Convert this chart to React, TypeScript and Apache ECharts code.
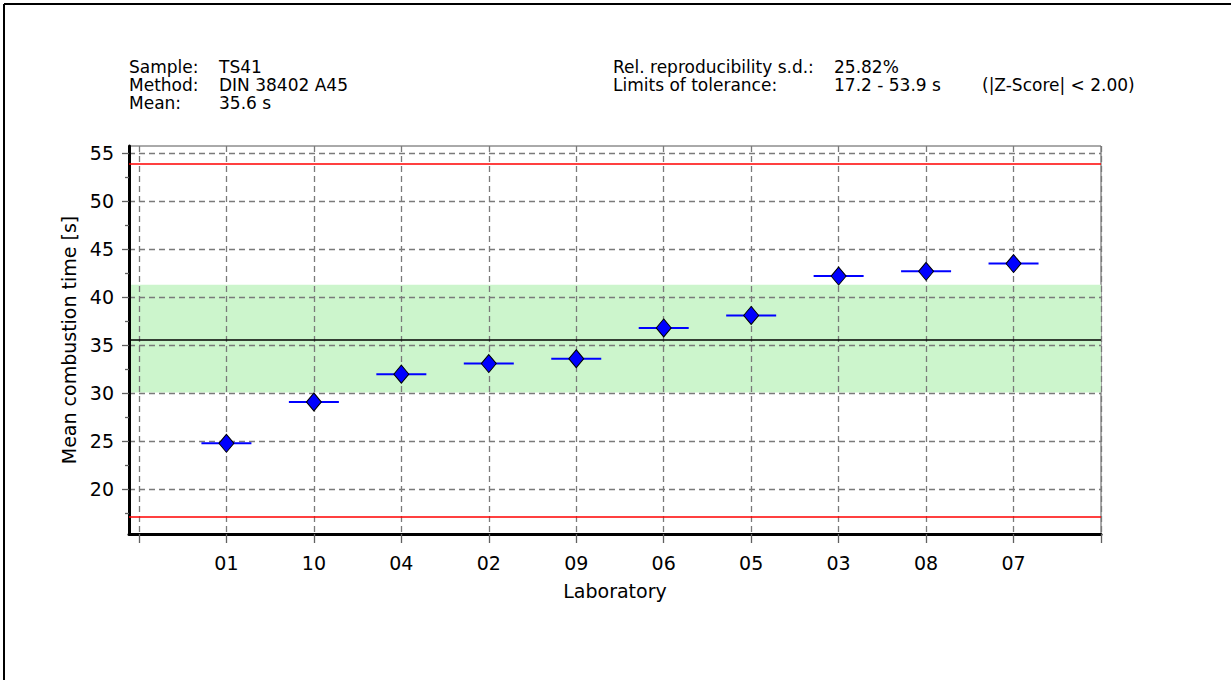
import React, { useEffect, useRef } from "react";
import * as echarts from "echarts";

const labs = ["01", "10", "04", "02", "09", "06", "05", "03", "08", "07"];
const means = [24.8, 29.1, 32.0, 33.1, 33.6, 36.8, 38.1, 42.2, 42.7, 43.5];
const meanValue = 35.6;
const limitLow = 17.2;
const limitHigh = 53.9;
const bandLow = 30.1;
const bandHigh = 41.3;
const yTicks = [20, 25, 30, 35, 40, 45, 50, 55];
const yMinorTicks = [17.5, 22.5, 27.5, 32.5, 37.5, 42.5, 47.5, 52.5];
const xTicks = [0, 1, 2, 3, 4, 5, 6, 7, 8, 9, 10, 11];
const xLabelPos = [1, 2, 3, 4, 5, 6, 7, 8, 9, 10];
const yMin = 15.37;
const yMax = 55.73;
const xMin = -0.114;
const xMax = 11;

const FONT = "'DejaVu Sans', sans-serif";
const FS = 19;
const HFS = 17;

export default function App() {
  const ref = useRef<HTMLDivElement>(null);
  useEffect(() => {
    document.body.style.margin = "0";
    const chart = echarts.init(ref.current!, null, { renderer: "svg" });
    const pts = means.map((v, i) => [i + 1, v]);
    const gridLine = { show: true, lineStyle: { color: "#7a7a7a", width: 1.3, type: [6, 4] } };
    const txt = (x: number, y: number, s: string) => ({
      type: "text",
      x,
      y,
      style: { text: s, fill: "#000", font: `${HFS}px ${FONT}`, textVerticalAlign: "middle" },
    });
    chart.setOption({
      animation: false,
      backgroundColor: "#fff",
      textStyle: { fontFamily: FONT },
      grid: {
        left: 129,
        right: 130,
        top: 146,
        bottom: 146,
        show: true,
        borderColor: "#555",
        borderWidth: 1,
        backgroundColor: "transparent",
      },
      xAxis: {
        type: "value",
        min: xMin,
        max: xMax,
        z: 1,
        name: "Laboratory",
        nameLocation: "middle",
        nameGap: 47,
        nameTextStyle: { fontSize: FS, color: "#000", fontFamily: FONT },
        axisLine: { show: true, onZero: false, lineStyle: { color: "#000", width: 3 } },
        axisTick: { show: true, customValues: xTicks, length: 9, lineStyle: { color: "#606060", width: 1.3 } },
        axisLabel: {
          customValues: xLabelPos,
          margin: 19,
          fontSize: FS,
          color: "#000",
          fontFamily: FONT,
          formatter: (v: number) => labs[Math.round(v) - 1] ?? "",
        },
        splitLine: gridLine,
      },
      yAxis: [
        {
          type: "value",
          min: yMin,
          max: yMax,
          z: 1,
          name: "Mean combustion time [s]",
          nameLocation: "middle",
          nameGap: 47,
          nameTextStyle: { fontSize: FS, color: "#000", fontFamily: FONT },
          axisLine: { show: true, onZero: false, lineStyle: { color: "#000", width: 3 } },
          axisTick: { show: true, customValues: yTicks, length: 7, lineStyle: { color: "#606060", width: 1.3 } },
          axisLabel: { customValues: yTicks, margin: 15, fontSize: FS, color: "#000", fontFamily: FONT },
          splitLine: gridLine,
        },
        {
          type: "value",
          min: yMin,
          max: yMax,
          position: "left",
          z: 1,
          axisLine: { show: false, onZero: false },
          axisTick: { show: true, inside: false, customValues: yMinorTicks, length: 4, lineStyle: { color: "#606060", width: 1.3 } },
          axisLabel: { show: false },
          splitLine: { show: false },
        },
      ],
      series: [
        {
          type: "custom",
          z: 0,
          silent: true,
          data: [[bandLow, bandHigh]],
          renderItem: (params: any, api: any) => {
            const cs = params.coordSys;
            const top = api.coord([xMin, api.value(1)])[1];
            const bot = api.coord([xMin, api.value(0)])[1];
            return {
              type: "rect",
              shape: { x: cs.x, y: top, width: cs.width, height: bot - top },
              style: { fill: "#ccf5cc" },
            };
          },
        },
        {
          type: "scatter",
          z: 3,
          silent: true,
          data: pts,
          symbol: "rect",
          symbolSize: [50, 2],
          itemStyle: { color: "#0000ff", opacity: 1 },
          markLine: {
            silent: true,
            symbol: ["none", "none"],
            label: { show: false },
            data: [
              { yAxis: limitHigh, lineStyle: { color: "#ff0000", width: 1.5, type: "solid" } },
              { yAxis: limitLow, lineStyle: { color: "#ff0000", width: 1.5, type: "solid" } },
              { yAxis: meanValue, lineStyle: { color: "#000", width: 1.5, type: "solid" } },
            ],
          },
        },
        {
          type: "scatter",
          z: 4,
          silent: true,
          data: pts,
          symbol: "diamond",
          symbolSize: [15, 18],
          itemStyle: { color: "#0000ff", borderColor: "#000", borderWidth: 1, opacity: 1 },
        },
      ],
      graphic: [
        { type: "line", shape: { x1: 4, y1: 4, x2: 1231, y2: 4 }, style: { stroke: "#000", lineWidth: 2 } },
        { type: "line", shape: { x1: 4, y1: 4, x2: 4, y2: 680 }, style: { stroke: "#000", lineWidth: 2 } },
        txt(129, 67, "Sample:"),
        txt(219, 67, "TS41"),
        txt(129, 85, "Method:"),
        txt(219, 85, "DIN 38402 A45"),
        txt(129, 103, "Mean:"),
        txt(219, 103, "35.6 s"),
        txt(613, 67, "Rel. reproducibility s.d.:"),
        txt(834, 67, "25.82%"),
        txt(613, 85, "Limits of tolerance:"),
        txt(834, 85, "17.2 - 53.9 s"),
        txt(982, 85, "(|Z-Score| < 2.00)"),
      ],
    });
    return () => chart.dispose();
  }, []);
  return <div ref={ref} style={{ position: "absolute", left: 0, top: 0, width: 1231, height: 680 }} />;
}
